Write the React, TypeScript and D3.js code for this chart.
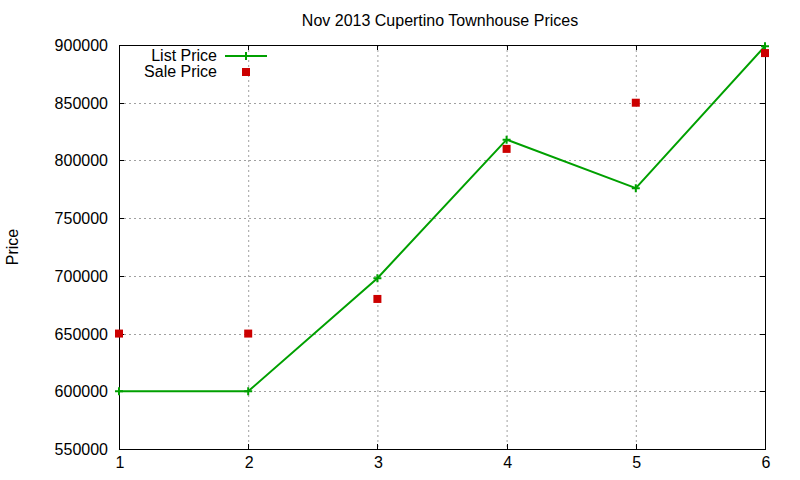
import { useEffect, useRef } from 'react'
import * as d3 from 'd3'

// Data
const UNITS = [1, 2, 3, 4, 5, 6]
const LIST_PRICE = [600000, 600000, 698000, 818000, 776000, 899000]
const SALE_PRICE = [650000, 650000, 680000, 810000, 850000, 893000]
const Y_TICKS = [550000, 600000, 650000, 700000, 750000, 800000, 850000, 900000]
const X_TICKS = [1, 2, 3, 4, 5, 6]

const GREEN = '#00a000'
const RED = '#cc0000'
const FONT = '"Liberation Sans", Arial, sans-serif'

export default function App() {
  const svgRef = useRef<SVGSVGElement>(null)

  useEffect(() => {
    if (!svgRef.current) return
    const svg = d3.select(svgRef.current)
    svg.selectAll('*').remove()

    const width = 800
    const height = 480
    const margin = { top: 45, right: 35, bottom: 31, left: 119 }
    const innerWidth = width - margin.left - margin.right
    const innerHeight = height - margin.top - margin.bottom

    const x = d3.scaleLinear().domain([1, 6]).range([0, innerWidth])
    const y = d3.scaleLinear().domain([550000, 900000]).range([innerHeight, 0])

    svg.append('rect').attr('width', width).attr('height', height).attr('fill', '#fff')

    const g = svg.append('g').attr('transform', `translate(${margin.left},${margin.top})`)

    // Grid lines
    g.append('g')
      .selectAll('line')
      .data(X_TICKS.slice(1, -1))
      .join('line')
      .attr('x1', d => x(d) + 0.5)
      .attr('x2', d => x(d) + 0.5)
      .attr('y1', 0)
      .attr('y2', innerHeight)
      .attr('stroke', '#a0a0a0')
      .attr('stroke-dasharray', '2,3')

    g.append('g')
      .selectAll('line')
      .data(Y_TICKS.slice(1, -1))
      .join('line')
      .attr('x1', 0)
      .attr('x2', innerWidth)
      .attr('y1', d => Math.round(y(d)) + 0.5)
      .attr('y2', d => Math.round(y(d)) + 0.5)
      .attr('stroke', '#a0a0a0')
      .attr('stroke-dasharray', '2,3')

    // Ticks on all four sides, pointing inward
    const tickLen = 5
    const ticks = g.append('g').attr('stroke', '#000')
    Y_TICKS.forEach(d => {
      const yy = Math.round(y(d)) + 0.5
      ticks.append('line').attr('x1', 0).attr('x2', tickLen).attr('y1', yy).attr('y2', yy)
      ticks.append('line').attr('x1', innerWidth - tickLen).attr('x2', innerWidth).attr('y1', yy).attr('y2', yy)
    })
    X_TICKS.forEach(d => {
      const xx = Math.round(x(d)) + 0.5
      ticks.append('line').attr('x1', xx).attr('x2', xx).attr('y1', innerHeight).attr('y2', innerHeight - tickLen)
      ticks.append('line').attr('x1', xx).attr('x2', xx).attr('y1', 0).attr('y2', tickLen)
    })

    // Border
    g.append('rect')
      .attr('x', 0.5)
      .attr('y', 0.5)
      .attr('width', innerWidth)
      .attr('height', innerHeight)
      .attr('fill', 'none')
      .attr('stroke', '#000')

    // Tick labels
    g.append('g')
      .selectAll('text')
      .data(Y_TICKS)
      .join('text')
      .attr('x', -11)
      .attr('y', d => y(d) + 6)
      .attr('text-anchor', 'end')
      .attr('font-family', FONT)
      .attr('font-size', 16)
      .text(d => String(d))

    g.append('g')
      .selectAll('text')
      .data(X_TICKS)
      .join('text')
      .attr('x', d => x(d) + 1)
      .attr('y', innerHeight + 19)
      .attr('text-anchor', 'middle')
      .attr('font-family', FONT)
      .attr('font-size', 16)
      .text(d => String(d))

    // List price line
    const listData = UNITS.map((u, i) => [u, LIST_PRICE[i]] as [number, number])
    const line = d3.line<[number, number]>().x(d => x(d[0])).y(d => y(d[1]))
    g.append('path')
      .datum(listData)
      .attr('d', line)
      .attr('fill', 'none')
      .attr('stroke', GREEN)
      .attr('stroke-width', 2)

    const plus = (sel: d3.Selection<SVGGElement, unknown, null, undefined>, cx: number, cy: number) => {
      sel.append('path')
        .attr('d', `M${cx - 4},${cy}H${cx + 4}M${cx},${cy - 4}V${cy + 4}`)
        .attr('stroke', GREEN)
        .attr('stroke-width', 2)
        .attr('fill', 'none')
    }
    const marks = g.append('g')
    listData.forEach(d => plus(marks, x(d[0]), y(d[1])))

    // Sale price squares
    g.append('g')
      .selectAll('rect')
      .data(UNITS.map((u, i) => [u, SALE_PRICE[i]] as [number, number]))
      .join('rect')
      .attr('x', d => x(d[0]) - 4)
      .attr('y', d => y(d[1]) - 4)
      .attr('width', 8)
      .attr('height', 8)
      .attr('fill', RED)

    // Legend
    const legend = svg.append('g').attr('font-family', FONT).attr('font-size', 16)
    legend.append('text').attr('x', 217).attr('y', 61).attr('text-anchor', 'end').text('List Price')
    legend.append('text').attr('x', 217).attr('y', 77).attr('text-anchor', 'end').text('Sale Price')
    legend.append('line')
      .attr('x1', 225).attr('x2', 267).attr('y1', 56).attr('y2', 56)
      .attr('stroke', GREEN).attr('stroke-width', 2)
    plus(legend, 246, 56)
    legend.append('rect').attr('x', 242).attr('y', 68).attr('width', 8).attr('height', 8).attr('fill', RED)

    // Title and axis label
    svg.append('text')
      .attr('x', 440)
      .attr('y', 26)
      .attr('text-anchor', 'middle')
      .attr('font-family', FONT)
      .attr('font-size', 16)
      .text('Nov 2013 Cupertino Townhouse Prices')

    svg.append('text')
      .attr('transform', 'translate(18,247) rotate(-90)')
      .attr('text-anchor', 'middle')
      .attr('font-family', FONT)
      .attr('font-size', 16)
      .text('Price')
  }, [])

  return (
    <div style={{ position: 'fixed', left: 0, top: 0 }}>
      <svg ref={svgRef} width={800} height={480} style={{ display: 'block' }} />
    </div>
  )
}
